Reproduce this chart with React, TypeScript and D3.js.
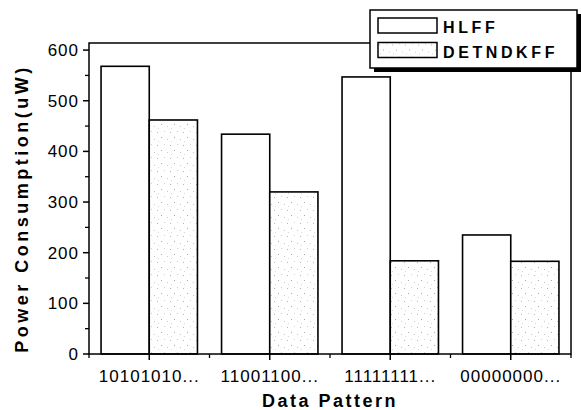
import React from "react"
import * as d3 from "d3"

const categories = ["10101010...", "11001100...", "11111111...", "00000000..."]
const seriesNames = ["HLFF", "DETNDKFF"]
const hlff = [568, 434, 547, 235]
const detndkff = [462, 320, 184, 183]
const yTicks = [0, 100, 200, 300, 400, 500, 600]

const W = 581
const H = 410
const margin = { top: 43, right: 10, bottom: 56, left: 89 }
const font = "Arial, 'Liberation Sans', Helvetica, sans-serif"

export default function App() {
  const x = d3
    .scaleBand()
    .domain(categories)
    .range([margin.left, W - margin.right])
    .paddingInner(0.2)
    .paddingOuter(0.1)
  const xs = d3.scaleBand().domain(seriesNames).range([0, x.bandwidth()])
  const y = d3.scaleLinear().domain([0, 614]).range([H - margin.bottom, margin.top])

  const x0 = margin.left
  const x1 = W - margin.right
  const y0 = y(0)
  const step = x.step()
  // category boundaries for minor ticks
  const bounds = d3.range(categories.length + 1).map((i) => x0 + i * step)
  const minorY = d3.range(50, 600, 100)

  const rows = categories.map((c, i) => ({ c, vals: [hlff[i], detndkff[i]] }))

  return (
    <svg width={W} height={H} style={{ position: "absolute", left: 0, top: 0, background: "#fff" }}>
      <defs>
        <pattern id="stipple" width="13" height="13" patternUnits="userSpaceOnUse">
          <rect width="13" height="13" fill="#fff" />
          <rect x="1" y="2" width="1" height="1" fill="#b5b5b5" />
          <rect x="8" y="1" width="1" height="1" fill="#d0d0d0" />
          <rect x="5" y="7" width="1" height="1" fill="#a8a8a8" />
          <rect x="11" y="9" width="1" height="1" fill="#c8c8c8" />
          <rect x="2" y="11" width="1" height="1" fill="#d8d8d8" />
        </pattern>
      </defs>

      {/* bars */}
      {rows.map((r) =>
        r.vals.map((v, j) => (
          <rect
            key={r.c + j}
            x={(x(r.c) ?? 0) + (xs(seriesNames[j]) ?? 0)}
            y={y(v)}
            width={xs.bandwidth()}
            height={y0 - y(v)}
            fill={j === 0 ? "#fff" : "url(#stipple)"}
            stroke="#000"
            strokeWidth={1.6}
          />
        )),
      )}

      {/* frame */}
      <rect x={x0} y={margin.top} width={x1 - x0} height={y0 - margin.top} fill="none" stroke="#000" strokeWidth={1.5} />

      {/* y axis */}
      {yTicks.map((t) => (
        <g key={t}>
          <line x1={x0 - 6} x2={x0} y1={y(t)} y2={y(t)} stroke="#000" strokeWidth={1.5} />
          <text
            x={x0 - 10}
            y={y(t) + 6}
            textAnchor="end"
            fontFamily={font}
            fontSize={17}
            letterSpacing={1}
          >
            {t}
          </text>
        </g>
      ))}
      {minorY.map((t) => (
        <line key={t} x1={x0 - 4} x2={x0} y1={y(t)} y2={y(t)} stroke="#000" strokeWidth={1.3} />
      ))}

      {/* x axis */}
      {bounds.map((b, i) => (
        <line key={i} x1={b} x2={b} y1={y0} y2={y0 + 4} stroke="#000" strokeWidth={1.3} />
      ))}
      {categories.map((c) => {
        const cx = (x(c) ?? 0) + x.bandwidth() / 2
        return (
          <g key={c}>
            <line x1={cx} x2={cx} y1={y0} y2={y0 + 6} stroke="#000" strokeWidth={1.5} />
            <text x={cx} y={y0 + 28} textAnchor="middle" fontFamily={font} fontSize={17} letterSpacing={1}>
              {c}
            </text>
          </g>
        )
      })}

      {/* axis titles */}
      <text
        x={(x0 + x1) / 2}
        y={H - 3}
        textAnchor="middle"
        fontFamily={font}
        fontSize={18}
        fontWeight="bold"
        letterSpacing={2.5}
      >
        Data Pattern
      </text>
      <text
        transform={`translate(28, ${(margin.top + y0) / 2 + 10}) rotate(-90)`}
        textAnchor="middle"
        fontFamily={font}
        fontSize={18}
        fontWeight="bold"
        letterSpacing={3.5}
      >
        Power Consumption(uW)
      </text>

      {/* legend */}
      <g>
        <rect x={374} y={14} width={207} height={58} fill="#000" />
        <rect x={370} y={10} width={207} height={58} fill="#fff" stroke="#000" strokeWidth={1.5} />
        {seriesNames.map((s, i) => (
          <g key={s} transform={`translate(378, ${18 + i * 24.5})`}>
            <rect width={59} height={15} fill={i === 0 ? "#fff" : "url(#stipple)"} stroke="#000" strokeWidth={1.5} />
            <text x={65} y={15} fontFamily={font} fontSize={16} fontWeight="bold" letterSpacing={3.6}>
              {s}
            </text>
          </g>
        ))}
      </g>
    </svg>
  )
}
